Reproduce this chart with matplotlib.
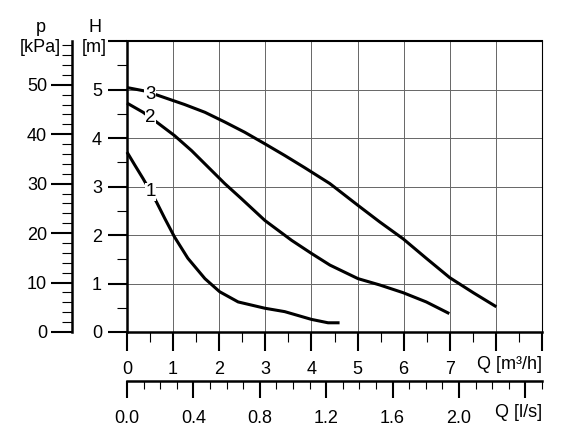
import numpy as np
from matplotlib import pyplot as plt
from matplotlib.ticker import MultipleLocator, FixedLocator

plt.rcParams["font.family"] = ["Liberation Sans", "DejaVu Sans"]
plt.rcParams["font.size"] = 13

# pump curves, Q in m3/h, H in m
q1 = [0, 0.17, 0.35, 0.64, 0.82, 1.03, 1.32, 1.69, 2.01, 2.41, 2.99, 3.42, 4.0, 4.36, 4.61]
h1 = [3.71, 3.44, 3.16, 2.68, 2.34, 1.96, 1.52, 1.10, 0.83, 0.62, 0.49, 0.42, 0.26, 0.19, 0.19]
q2 = [0, 0.35, 0.64, 1.03, 1.40, 1.76, 2.12, 2.48, 2.99, 3.57, 4.0, 4.40, 5.01, 5.48, 5.99, 6.49, 6.99]
h2 = [4.72, 4.53, 4.33, 4.05, 3.74, 3.40, 3.06, 2.75, 2.30, 1.89, 1.62, 1.38, 1.10, 0.97, 0.81, 0.62, 0.38]
q3 = [0, 0.38, 0.67, 1.25, 1.69, 2.12, 2.55, 2.99, 3.42, 3.85, 4.40, 5.01, 5.48, 5.99, 6.49, 7.0, 7.51, 8.01]
h3 = [5.04, 4.97, 4.88, 4.69, 4.53, 4.33, 4.12, 3.88, 3.64, 3.39, 3.06, 2.61, 2.27, 1.92, 1.52, 1.12, 0.81, 0.52]
curve_labels = ["1", "2", "3"]
label_pos = [(0.51, 2.89), (0.51, 4.43), (0.5, 4.9)]

q_ticks = [0, 1, 2, 3, 4, 5, 6, 7]
h_ticks = [0, 1, 2, 3, 4, 5]
p_ticks = [0, 10, 20, 30, 40, 50]
ls_ticks = [0.0, 0.4, 0.8, 1.2, 1.6, 2.0]

fig = plt.figure(figsize=(5.81, 4.41), dpi=100)
ax = fig.add_axes([127 / 581, 1 - 332 / 441, 415 / 581, 291 / 441])
ax.set_xlim(0, 9)
ax.set_ylim(0, 6)

ax.grid(True, color="#666666", linewidth=0.7)
ax.set_axisbelow(True)

for q, h in zip([q1, q2, q3], [h1, h2, h3]):
    ax.plot(q, h, color="black", lw=2.2, solid_capstyle="butt", solid_joinstyle="round",
            zorder=3, clip_on=False)
for lab, (x, y) in zip(curve_labels, label_pos):
    ax.text(x, y, lab, fontsize=13.5, ha="center", va="center", zorder=4,
            bbox=dict(facecolor="white", edgecolor="none", pad=0.3))

ax.spines["left"].set_linewidth(1.8)
ax.spines["bottom"].set_linewidth(1.8)
ax.spines["top"].set_linewidth(1.5)
ax.spines["right"].set_linewidth(0.8)

ax.xaxis.set_major_locator(FixedLocator(range(10)))
ax.xaxis.set_minor_locator(MultipleLocator(0.5))
ax.set_xticklabels([str(t) if t in q_ticks else "" for t in range(10)])
ax.yaxis.set_major_locator(FixedLocator(range(7)))
ax.yaxis.set_minor_locator(MultipleLocator(0.5))
ax.set_yticklabels([str(t) if t in h_ticks else "" for t in range(7)])
ax.tick_params(which="major", direction="out", length=14, width=1.5)
ax.tick_params(which="minor", direction="out", length=7, width=0.8)
ax.tick_params(axis="x", which="major", pad=7)
ax.tick_params(axis="y", which="major", pad=4)

ax.text(9, -0.68, "Q [m³/h]", ha="right", va="center")
ax.text(-0.70, 6.28, "H", ha="center", va="center")
ax.text(-0.70, 5.86, "[m]", ha="center", va="center")

# pressure axis on the left
sec_y = ax.secondary_yaxis(-55 / 415, functions=(lambda h: h * 9.81, lambda p: p / 9.81))
sec_y.spines["left"].set_linewidth(1.8)
sec_y.yaxis.set_major_locator(FixedLocator(p_ticks))
sec_y.yaxis.set_minor_locator(MultipleLocator(2))
sec_y.tick_params(which="major", direction="out", length=15, width=1.5, pad=3)
sec_y.tick_params(which="minor", direction="out", length=7, width=0.8)
ax.text(-1.87, 6.28, "p", ha="center", va="center")
ax.text(-1.87, 5.86, "[kPa]", ha="center", va="center")

# flow axis in l/s below
sec_x = ax.secondary_xaxis(-49 / 291, functions=(lambda q: q / 3.6, lambda l: l * 3.6))
sec_x.spines["bottom"].set_linewidth(1.8)
sec_x.xaxis.set_major_locator(FixedLocator([0.0, 0.4, 0.8, 1.2, 1.6, 2.0, 2.4]))
sec_x.xaxis.set_minor_locator(MultipleLocator(0.1))
sec_x.set_xticklabels(["{:.1f}".format(t) for t in ls_ticks] + [""])
sec_x.tick_params(which="major", direction="out", length=12, width=1.5, pad=9)
sec_x.tick_params(which="minor", direction="out", length=6, width=0.8)
ax.text(9, -1.65, "Q [l/s]", ha="right", va="center")

plt.savefig("out.png", dpi=100)
